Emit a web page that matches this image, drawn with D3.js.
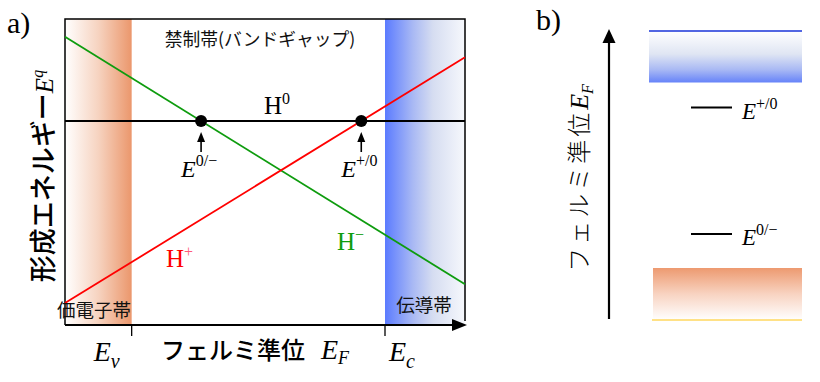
<!DOCTYPE html>
<html><head><meta charset="utf-8">
<script src="https://cdn.jsdelivr.net/npm/d3@7/dist/d3.min.js"></script>
<style>body{margin:0;background:#fff}svg{display:block}</style>
</head><body><svg id="c" width="820" height="382"></svg>
<script>
// ---- data (panel a: formation energy vs Fermi level) ----
const efDomain = [-1, 5];
const eDomain = [0, 6];
const Ev = 0, Ec = 3.8;
const lineH0 = [[-1, 4.0], [5, 4.0]];
const lineHplus = [[-1, 0.43], [5, 5.25]];
const lineHminus = [[-1, 5.65], [5, 0.80]];
const bandLabels = ["価電子帯", "伝導帯"];
const gapLabel = "禁制帯(バンドギャップ)";
const xAxisLabel = "フェルミ準位";
const yAxisLabel = "形成エネルギー";
// ---- data (panel b: level diagram) ----
const bDomain = [0, 6];
const valenceB = [0, 1.04];
const conductionB = [4.75, 5.78];
const levelsB = [{sup: "+/0", e: 4.25}, {sup: "0/\u2212", e: 1.72}];
const axisTopB = 5.82;
const yLabelB = "フェルミ準位";

const svg = d3.select("#c");
const serif = "'Liberation Serif','Times New Roman',serif";
const cjk = "'Noto Sans CJK JP','Noto Sans',sans-serif";

const defs = svg.append("defs");
function grad(id, vertical, stops) {
  const g = defs.append("linearGradient").attr("id", id)
    .attr("x1", 0).attr("y1", 0).attr("x2", vertical ? 0 : 1).attr("y2", vertical ? 1 : 0);
  stops.forEach(s => g.append("stop").attr("offset", s[0]).attr("stop-color", s[1]));
}
grad("vbA", false, [[0, "#ffffff"], [0.5, "#f6d3c0"], [1, "#eb976c"]]);
grad("cbA", false, [[0, "#5b7bff"], [0.35, "#a9b9f4"], [0.6, "#d6ddf1"], [1, "#f6f8fc"]]);
grad("cbB", true, [[0, "#ffffff"], [0.45, "#dfe5f3"], [0.75, "#a9b9f4"], [1, "#6683f9"]]);
grad("vbB", true, [[0, "#ed9a70"], [0.5, "#f8d3c1"], [1, "#ffffff"]]);

// ---------------- panel a ----------------
const xA = d3.scaleLinear().domain(efDomain).range([65, 465]);
const yA = d3.scaleLinear().domain(eDomain).range([325, 19]);
const gA = svg.append("g");

gA.append("rect").attr("x", xA(efDomain[0])).attr("y", yA(eDomain[1]))
  .attr("width", xA(Ev) - xA(efDomain[0])).attr("height", yA(eDomain[0]) - yA(eDomain[1]))
  .attr("fill", "url(#vbA)");
gA.append("rect").attr("x", xA(Ec)).attr("y", yA(eDomain[1]))
  .attr("width", xA(efDomain[1]) - xA(Ec)).attr("height", yA(eDomain[0]) - yA(eDomain[1]))
  .attr("fill", "url(#cbA)");

// frame
gA.append("path").attr("d", `M${xA(efDomain[0])},${yA(eDomain[0])}V${yA(eDomain[1])}H${xA(efDomain[1])}V${yA(eDomain[0]) - 4}`)
  .attr("fill", "none").attr("stroke", "#000").attr("stroke-width", 1.5);
// x axis with arrow
gA.append("line").attr("x1", xA(efDomain[0])).attr("x2", xA(efDomain[1]) - 8)
  .attr("y1", yA(eDomain[0])).attr("y2", yA(eDomain[0])).attr("stroke", "#000").attr("stroke-width", 2.2);
gA.append("path").attr("d", `M${xA(efDomain[1]) - 13},${yA(0) - 6}L${xA(efDomain[1]) + 2},${yA(0)}L${xA(efDomain[1]) - 13},${yA(0) + 6}Z`).attr("fill", "#000");
// ticks at Ev, Ec
[Ev, Ec].forEach(v => gA.append("line").attr("x1", xA(v)).attr("x2", xA(v))
  .attr("y1", yA(0)).attr("y2", yA(0) + 11).attr("stroke", "#000").attr("stroke-width", 1.3));

const lineGen = d3.line().x(d => xA(d[0])).y(d => yA(d[1]));
gA.append("path").attr("d", lineGen(lineHminus)).attr("stroke", "#0e9c0e").attr("stroke-width", 1.8).attr("fill", "none");
gA.append("path").attr("d", lineGen(lineHplus)).attr("stroke", "#ff0000").attr("stroke-width", 1.8).attr("fill", "none");
gA.append("path").attr("d", lineGen(lineH0)).attr("stroke", "#000").attr("stroke-width", 2.2).attr("fill", "none");

function intersect(a, b) {
  const sa = (a[1][1] - a[0][1]) / (a[1][0] - a[0][0]);
  const sb = (b[1][1] - b[0][1]) / (b[1][0] - b[0][0]);
  const ia = a[0][1] - sa * a[0][0], ib = b[0][1] - sb * b[0][0];
  const x = (ib - ia) / (sa - sb);
  return [x, ia + sa * x];
}
const trans = [
  {p: intersect(lineH0, lineHminus), sup: "0/\u2212"},
  {p: intersect(lineH0, lineHplus), sup: "+/0"}
];
trans.forEach(t => {
  const cx = xA(t.p[0]), cy = yA(t.p[1]);
  gA.append("circle").attr("cx", cx).attr("cy", cy).attr("r", 6).attr("fill", "#000");
  gA.append("line").attr("x1", cx).attr("x2", cx).attr("y1", cy + 31).attr("y2", cy + 16)
    .attr("stroke", "#000").attr("stroke-width", 1.6);
  gA.append("path").attr("d", `M${cx - 4},${cy + 21}L${cx},${cy + 11}L${cx + 4},${cy + 21}Z`).attr("fill", "#000");
  const tx = gA.append("text").attr("x", cx - 20).attr("y", cy + 56).attr("font-family", serif).attr("font-size", 24);
  tx.append("tspan").attr("font-style", "italic").text("E");
  tx.append("tspan").attr("dy", -11).attr("font-size", 16).text(t.sup);
});

function hLabel(x, y, sup, color, supColor) {
  const t = gA.append("text").attr("x", x).attr("y", y).attr("font-family", serif).attr("font-size", 25).attr("fill", color);
  t.append("tspan").text("H");
  t.append("tspan").attr("dy", -10).attr("font-size", 16).attr("fill", supColor).text(sup);
}
hLabel(264, yA(lineH0[0][1]) - 7, "0", "#000", "#000");
hLabel(166, 267, "+", "#ff0000", "#ff5a7a");
hLabel(337, 250, "\u2212", "#0e9c0e", "#0e9c0e");

gA.append("text").attr("x", 260).attr("y", 46).attr("text-anchor", "middle")
  .attr("font-family", cjk).attr("font-size", 17.8).attr("fill", "#111").text(gapLabel);
gA.append("text").attr("x", 94).attr("y", 317).attr("text-anchor", "middle")
  .attr("font-family", cjk).attr("font-size", 18.5).attr("fill", "#111").text(bandLabels[0]);
gA.append("text").attr("x", 424).attr("y", 312).attr("text-anchor", "middle")
  .attr("font-family", cjk).attr("font-size", 18.5).attr("fill", "#111").text(bandLabels[1]);

// x axis label
const xl = gA.append("text").attr("x", 161).attr("y", 359).attr("font-size", 24);
xl.append("tspan").attr("font-family", cjk).attr("font-weight", 500).text(xAxisLabel);
xl.append("tspan").attr("dx", 16).attr("font-family", serif).attr("font-style", "italic").attr("font-size", 28).text("E");
xl.append("tspan").attr("dy", 5).attr("font-family", serif).attr("font-style", "italic").attr("font-size", 18).text("F");

function eSub(x, sub) {
  const t = gA.append("text").attr("x", x).attr("y", 361).attr("font-family", serif).attr("font-style", "italic").attr("font-size", 28);
  t.append("tspan").text("E");
  t.append("tspan").attr("dy", 7).attr("font-size", 20).text(sub);
}
eSub(xA(Ev) - 38, "v");
eSub(xA(Ec) + 4, "c");

// y axis label
const yl = gA.append("text").attr("transform", "translate(53,176) rotate(-90)").attr("text-anchor", "middle").attr("font-size", 27);
yl.append("tspan").attr("font-family", cjk).attr("font-weight", 500).text(yAxisLabel);
yl.append("tspan").attr("font-family", serif).attr("font-style", "italic").attr("font-size", 25).text("E");
yl.append("tspan").attr("dy", -10).attr("font-family", serif).attr("font-style", "italic").attr("font-size", 16).text("q");

svg.append("text").attr("x", 7).attr("y", 33).attr("font-family", serif).attr("font-size", 30).text("a)");

// ---------------- panel b ----------------
const yB = d3.scaleLinear().domain(bDomain).range([320, 20]);
const gB = svg.append("g");
svg.append("text").attr("x", 536).attr("y", 30).attr("font-family", serif).attr("font-size", 30).text("b)");

gB.append("line").attr("x1", 609).attr("x2", 609).attr("y1", yB(0) - 1).attr("y2", yB(axisTopB) + 10)
  .attr("stroke", "#000").attr("stroke-width", 2.2);
gB.append("path").attr("d", `M${602.5},${yB(axisTopB) + 14}L609,${yB(axisTopB)}L${615.5},${yB(axisTopB) + 14}Z`).attr("fill", "#000");

gB.append("rect").attr("x", 649).attr("y", yB(conductionB[1])).attr("width", 153)
  .attr("height", yB(conductionB[0]) - yB(conductionB[1])).attr("fill", "url(#cbB)");
gB.append("line").attr("x1", 649).attr("x2", 802).attr("y1", yB(conductionB[1])).attr("y2", yB(conductionB[1]))
  .attr("stroke", "#1833d8").attr("stroke-width", 1.3);
gB.append("rect").attr("x", 653).attr("y", yB(valenceB[1])).attr("width", 149)
  .attr("height", yB(valenceB[0]) - yB(valenceB[1])).attr("fill", "url(#vbB)");
gB.append("line").attr("x1", 652).attr("x2", 802).attr("y1", yB(valenceB[0])).attr("y2", yB(valenceB[0]))
  .attr("stroke", "#ffd75e").attr("stroke-width", 1.3);

levelsB.forEach(l => {
  const y = yB(l.e);
  gB.append("line").attr("x1", 691).attr("x2", 732).attr("y1", y).attr("y2", y).attr("stroke", "#000").attr("stroke-width", 1.8);
  const t = gB.append("text").attr("x", 742).attr("y", y + 11).attr("font-family", serif).attr("font-size", 23);
  t.append("tspan").attr("font-style", "italic").text("E");
  t.append("tspan").attr("dy", -10).attr("font-size", 16).text(l.sup);
});

const ylb = gB.append("text").attr("transform", "translate(588,178) rotate(-90)").attr("text-anchor", "middle").attr("font-size", 24);
ylb.append("tspan").attr("font-family", cjk).attr("font-weight", 300).attr("letter-spacing", 3).text(yLabelB);
ylb.append("tspan").attr("font-family", serif).attr("font-style", "italic").attr("font-size", 26).text("E");
ylb.append("tspan").attr("dy", 5).attr("font-family", serif).attr("font-style", "italic").attr("font-size", 16).text("F");
</script></body></html>
